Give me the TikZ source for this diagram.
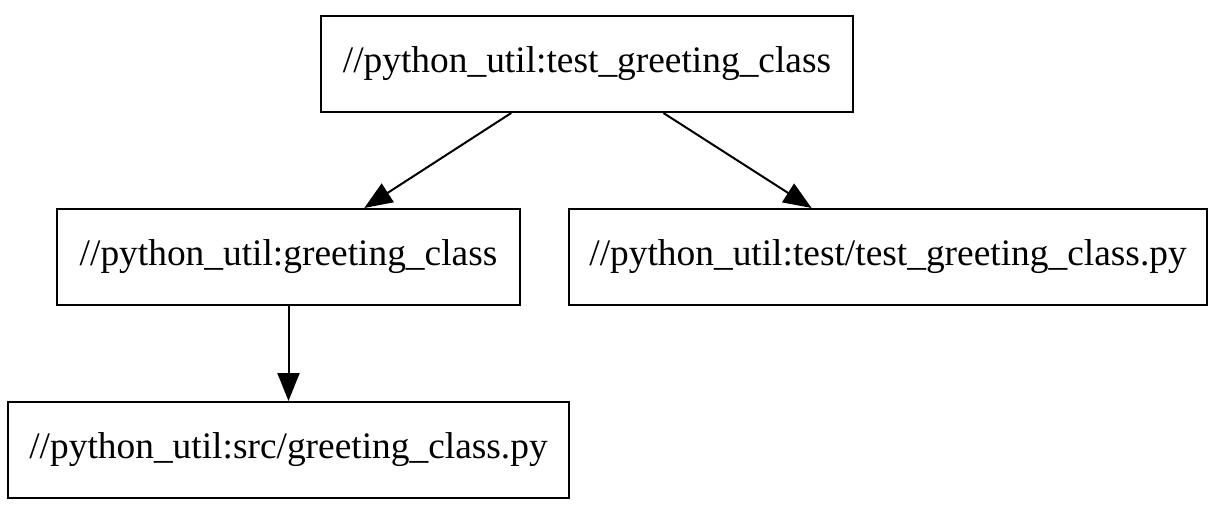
\documentclass[tikz,border=0pt]{standalone}
\usepackage{fontspec}
\setmainfont{Liberation Serif}
\usetikzlibrary{arrows.meta}
\tikzset{
	target/.style={draw, line width=1pt, minimum height=48pt, inner sep=0pt, font=\fontsize{18.7}{23}\selectfont},
	dep/.style={line width=1pt, -{Triangle[length=14pt, width=11pt]}}
}

\begin{document}
\begin{tikzpicture}[x=0.5pt, y=-0.5pt]
			%%%%% START %%%%%
			
			\useasboundingbox (0, 0) rectangle (1215, 508);
			
			\node[target, minimum width=266pt] (testclass) at (587, 64) {//python\_util:test\_greeting\_class};
			\node[target, minimum width=231.5pt] (greetclass) at (288.5, 257) {//python\_util:greeting\_class};
			\node[target, minimum width=319pt] (testpy) at (888, 257) {//python\_util:test/test\_greeting\_class.py};
			\node[target, minimum width=280.5pt] (srcpy) at (288.5, 450) {//python\_util:src/greeting\_class.py};
			
			\draw[dep] (testclass) -- (greetclass);
			\draw[dep] (testclass) -- (testpy);
			\draw[dep] (greetclass) -- (srcpy);
			
			%%%%% END %%%%%
		\end{tikzpicture}
\end{document}
